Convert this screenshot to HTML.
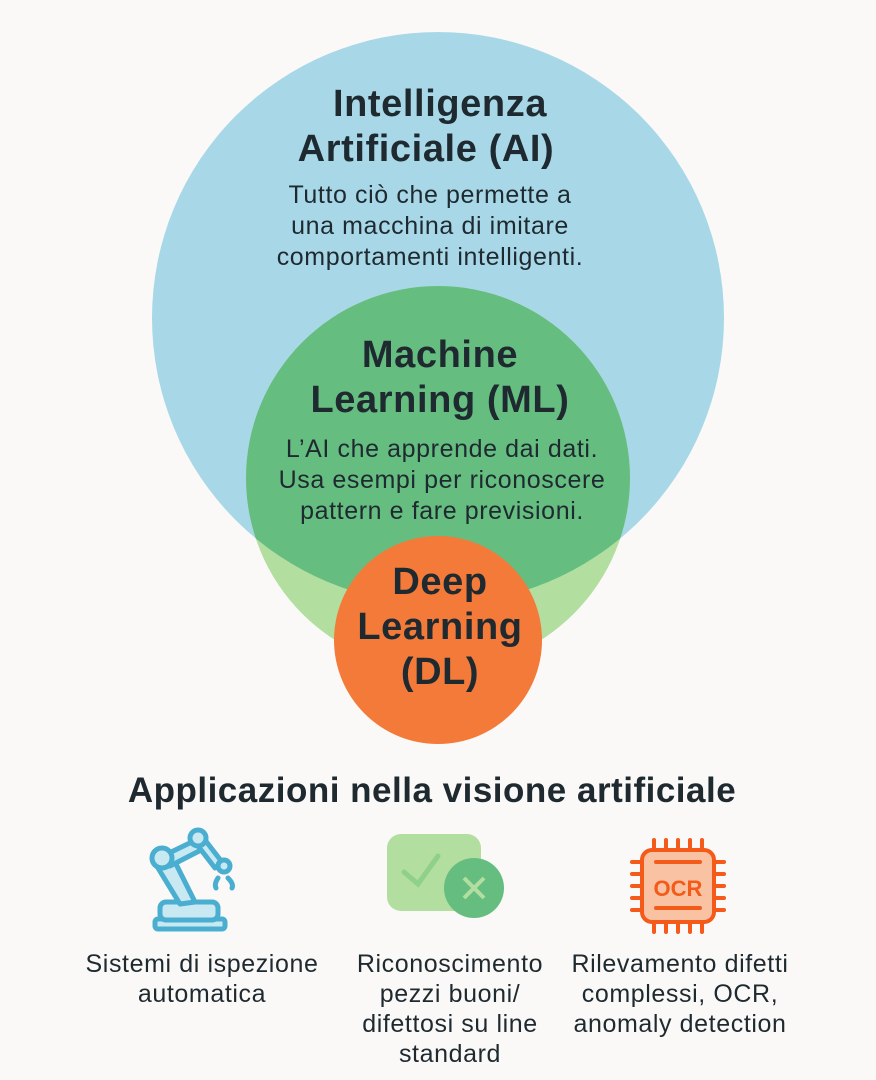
<!DOCTYPE html>
<html><head><meta charset="utf-8"><style>
html,body{margin:0;padding:0;background:#faf9f7;}
svg{display:block}
text{font-family:"Liberation Sans",sans-serif;fill:#1e2a30}
.t{font-weight:bold;font-size:38px;letter-spacing:0.6px}
.b{font-size:25px;letter-spacing:0.6px}
</style></head><body>
<svg width="876" height="1080" viewBox="0 0 876 1080">
<defs><clipPath id="blue"><circle cx="438" cy="318" r="286"/></clipPath></defs>
<rect width="876" height="1080" fill="#faf9f7"/>
<circle cx="438" cy="318" r="286" fill="#a8d8e8"/>
<circle cx="438" cy="478" r="192" fill="#b2dea0"/>
<circle cx="438" cy="478" r="192" fill="#66bd80" clip-path="url(#blue)"/>
<circle cx="438" cy="640" r="104" fill="#f47a3a"/>
<g text-anchor="middle">
<text class="t" x="440" y="116">Intelligenza</text>
<text class="t" x="426" y="161">Artificiale (AI)</text>
<text class="b" x="430" y="203">Tutto ciò che permette a</text>
<text class="b" x="430" y="234">una macchina di imitare</text>
<text class="b" x="430" y="265">comportamenti intelligenti.</text>
<text class="t" x="440" y="367">Machine</text>
<text class="t" x="440" y="412">Learning (ML)</text>
<text class="b" x="442" y="457">L’AI che apprende dai dati.</text>
<text class="b" x="442" y="488">Usa esempi per riconoscere</text>
<text class="b" x="442" y="519">pattern e fare previsioni.</text>
<text class="t" x="440" y="594">Deep</text>
<text class="t" x="440" y="639">Learning</text>
<text class="t" x="440" y="684">(DL)</text>
<text x="432" y="802" style="font-size:35px;font-weight:bold;letter-spacing:0.5px">Applicazioni nella visione artificiale</text>
<text class="b" x="202" y="972">Sistemi di ispezione</text>
<text class="b" x="202" y="1002">automatica</text>
<text class="b" x="450" y="972">Riconoscimento</text>
<text class="b" x="450" y="1002">pezzi buoni/</text>
<text class="b" x="450" y="1032">difettosi su line</text>
<text class="b" x="450" y="1062">standard</text>
<text class="b" x="680" y="972">Rilevamento difetti</text>
<text class="b" x="680" y="1002">complessi, OCR,</text>
<text class="b" x="680" y="1032">anomaly detection</text>
</g>
<g stroke="#4aaed0" stroke-width="5" fill="#c8e8f2" stroke-linejoin="round" stroke-linecap="round">
<rect x="155" y="919" width="70" height="10" rx="3"/>
<rect x="160" y="902" width="58" height="18" rx="6"/>
<path d="M158 868 L175 862 L195 902 L180 904 Z"/>
<path d="M165 855 L200 838 L205 848 L170 866 Z"/>
<path d="M205 840 L222 862 L215 868 L198 846 Z"/>
<circle cx="162" cy="858" r="10"/>
<circle cx="198" cy="838" r="8"/>
<circle cx="224" cy="866" r="6"/>
<path d="M218 878 Q214 884 216 888 M228 878 Q234 884 232 888" fill="none"/>
</g>
<rect x="387" y="834" width="94" height="77" rx="14" fill="#b2dea0"/>
<path d="M404 872 L418 884 L438 856" stroke="#8fd08a" stroke-width="5" fill="none" stroke-linecap="round"/>
<ellipse cx="474" cy="888" rx="30" ry="30" fill="#66bd80"/>
<path d="M464 878 L484 898 M484 878 L464 898" stroke="#b2dea0" stroke-width="4"/>
<g stroke="#f45a1a" stroke-width="4" stroke-linecap="round">
<path d="M654 840v10M666 840v10M678 840v10M690 840v10M702 840v10M654 920v12M666 920v12M678 920v12M690 920v12M702 920v12M632 862h10M632 874h10M632 886h10M632 898h10M632 910h10M714 862h10M714 874h10M714 886h10M714 898h10M714 910h10"/>
<rect x="642" y="850" width="72" height="72" rx="10" fill="#f9c3a3"/>
<path d="M656 862h44M656 908h44"/>
</g>
<text x="678" y="896" text-anchor="middle" style="font-size:22px;font-weight:bold;fill:#f45a1a">OCR</text>
</svg>
</body></html>
